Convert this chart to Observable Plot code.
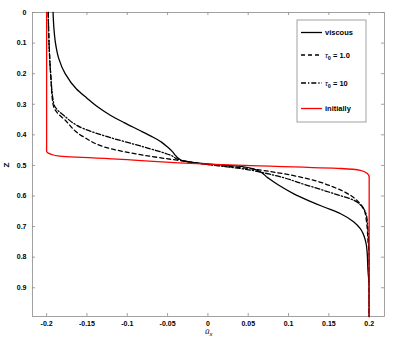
<!DOCTYPE html>
<html><head><meta charset="utf-8">
<script src="https://cdn.jsdelivr.net/npm/d3@7"></script>
<script src="https://cdn.jsdelivr.net/npm/@observablehq/plot@0.6"></script>
<style>body{margin:0;background:#fff}</style>
</head><body><div id="chart"></div>
<script>
const xTicks = [-0.2, -0.15, -0.1, -0.05, 0, 0.05, 0.1, 0.15, 0.2];
const xTickLabels = ["-0.2", "-0.15", "-0.1", "-0.05", "0", "0.05", "0.1", "0.15", "0.2"];
const yTicks = [0, 0.1, 0.2, 0.3, 0.4, 0.5, 0.6, 0.7, 0.8, 0.9];
const yTickLabels = ["0", "0.1", "0.2", "0.3", "0.4", "0.5", "0.6", "0.7", "0.8", "0.9"];
const xLabel = "ū";
const xLabelSub = "x";
const yLabel = "Z";

const viscousZ = [0, 0.05, 0.1, 0.15, 0.2, 0.25, 0.28, 0.31, 0.336, 0.36, 0.385, 0.405, 0.423, 0.44, 0.455, 0.468, 0.478, 0.485, 0.496, 0.503, 0.516, 0.54, 0.565, 0.592, 0.614, 0.636, 0.658, 0.685, 0.707, 0.745, 0.778, 0.843, 0.9, 0.994];
const viscousU = [-0.192, -0.191, -0.189, -0.185, -0.177, -0.163, -0.15, -0.136, -0.121, -0.104, -0.085, -0.07, -0.058, -0.05, -0.044, -0.04, -0.036, -0.03, 0.003, 0.0406, 0.0613, 0.074, 0.088, 0.106, 0.124, 0.144, 0.1646, 0.181, 0.189, 0.1953, 0.1973, 0.1985, 0.2, 0.2];

const tau1Z = [0, 0.1, 0.2, 0.3, 0.32, 0.333, 0.347, 0.407, 0.445, 0.467, 0.483, 0.497, 0.507, 0.522, 0.543, 0.571, 0.598, 0.62, 0.647, 0.69, 0.745, 0.8, 0.994];
const tau1U = [-0.198, -0.197, -0.195, -0.192, -0.189, -0.185, -0.179, -0.154, -0.121, -0.079, -0.038, 0, 0.04, 0.082, 0.123, 0.156, 0.177, 0.187, 0.194, 0.197, 0.1985, 0.2, 0.2];

const tau10Z = [0, 0.1, 0.2, 0.3, 0.32, 0.336, 0.38, 0.409, 0.44, 0.467, 0.483, 0.497, 0.51, 0.532, 0.565, 0.592, 0.614, 0.636, 0.669, 0.734, 0.8, 0.994];
const tau10U = [-0.198, -0.197, -0.195, -0.191, -0.186, -0.179, -0.154, -0.121, -0.079, -0.046, -0.034, 0, 0.04, 0.082, 0.123, 0.156, 0.181, 0.1915, 0.197, 0.199, 0.2, 0.2];

const initZ = [0, 0.44, 0.454, 0.46, 0.465, 0.469, 0.48, 0.496, 0.5, 0.51, 0.516, 0.525, 0.538, 0.55, 0.994];
const initU = [-0.2, -0.2, -0.2, -0.198, -0.193, -0.186, -0.107, 0, 0.045, 0.165, 0.189, 0.197, 0.2, 0.2, 0.2];

const seriesNames = ["viscous", "τ0 = 1.0", "τ0 = 10", "initially"];

function rows(zs, us) { return zs.map((z, i) => ({z, u: us[i]})); }

const axisColor = "#8a8a8a";
const font = "'Liberation Sans', Arial, Helvetica, sans-serif";
const W = 395, H = 338, ML = 32, MT = 12, MR = 11, MB = 22;
const plotW = W - ML - MR, plotH = H - MT - MB, tk = 3;

const chart = Plot.plot({
  width: W, height: H,
  marginLeft: ML, marginTop: MT, marginRight: MR, marginBottom: MB,
  style: {fontFamily: font, fontSize: "7px", color: "#000", background: "#fff"},
  x: {domain: [-0.2175, 0.219]},
  y: {domain: [0, 0.994], reverse: true},
  marks: [
    Plot.frame({stroke: axisColor, strokeWidth: 0.8}),
    Plot.axisX({anchor: "bottom", ticks: xTicks, tickFormat: (d, i) => xTickLabels[i], tickSize: 0, tickPadding: 5, label: null, fill: "#000", fontWeight: "bold"}),
    Plot.axisY({anchor: "left", ticks: yTicks, tickFormat: (d, i) => yTickLabels[i], tickSize: 0, tickPadding: 6, label: null, fill: "#000", fontWeight: "bold"}),
    Plot.tickX(xTicks, {x: d => d, insetTop: plotH - tk, stroke: axisColor, strokeWidth: 0.8}),
    Plot.tickX(xTicks, {x: d => d, insetBottom: plotH - tk, stroke: axisColor, strokeWidth: 0.8}),
    Plot.tickY(yTicks, {y: d => d, insetRight: plotW - tk, stroke: axisColor, strokeWidth: 0.8}),
    Plot.tickY(yTicks, {y: d => d, insetLeft: plotW - tk, stroke: axisColor, strokeWidth: 0.8}),
    Plot.line(rows(viscousZ, viscousU), {x: "u", y: "z", stroke: "#000", strokeWidth: 1.3, curve: "monotone-y"}),
    Plot.line(rows(tau1Z, tau1U), {x: "u", y: "z", stroke: "#000", strokeWidth: 1.3, strokeDasharray: "4,3", curve: "monotone-y"}),
    Plot.line(rows(tau10Z, tau10U), {x: "u", y: "z", stroke: "#000", strokeWidth: 1.3, strokeDasharray: "5,2,1.3,2", curve: "monotone-y"}),
    Plot.line(rows(initZ, initU), {x: "u", y: "z", stroke: "#ff0000", strokeWidth: 1.3, curve: "monotone-y"})
  ]
});
document.getElementById("chart").appendChild(chart);

const svg = d3.select(chart);
// axis titles
svg.append("text").attr("transform", "translate(9,165) rotate(-90)")
  .attr("text-anchor", "middle").attr("font-family", font).attr("font-size", 8).attr("font-weight", "bold")
  .text(yLabel);
const xl = svg.append("text").attr("x", 205).attr("y", 334).attr("text-anchor", "start")
  .attr("font-family", font).attr("font-size", 8).attr("font-style", "italic");
xl.append("tspan").text(xLabel);
xl.append("tspan").attr("font-size", 6).attr("dy", 2).text(xLabelSub);

// legend
const lg = svg.append("g");
lg.append("rect").attr("x", 297).attr("y", 20).attr("width", 69).attr("height", 102)
  .attr("fill", "#fff").attr("stroke", axisColor).attr("stroke-width", 0.8);
const legStyles = [
  {stroke: "#000", dash: null},
  {stroke: "#000", dash: "4,3"},
  {stroke: "#000", dash: "5,2,1.3,2"},
  {stroke: "#ff0000", dash: null}
];
const legY = [32.5, 55, 83, 108.5];
seriesNames.forEach((name, i) => {
  const y = legY[i];
  const ln = lg.append("line").attr("x1", 301).attr("x2", 322).attr("y1", y).attr("y2", y)
    .attr("stroke", legStyles[i].stroke).attr("stroke-width", 1.3);
  if (legStyles[i].dash) ln.attr("stroke-dasharray", legStyles[i].dash);
  const t = lg.append("text").attr("x", 325).attr("y", y + 2.8).attr("text-anchor", "start")
    .attr("font-family", font).attr("font-size", 7.5).attr("font-weight", "bold").attr("fill", "#000");
  if (name.startsWith("τ0")) {
    t.append("tspan").attr("font-weight", "normal").attr("font-style", "italic").text("τ");
    t.append("tspan").attr("font-size", 5.5).attr("dy", 2).text("0");
    t.append("tspan").attr("dy", -2).text(name.slice(2));
  } else {
    t.text(name);
  }
});
</script>
</body></html>
